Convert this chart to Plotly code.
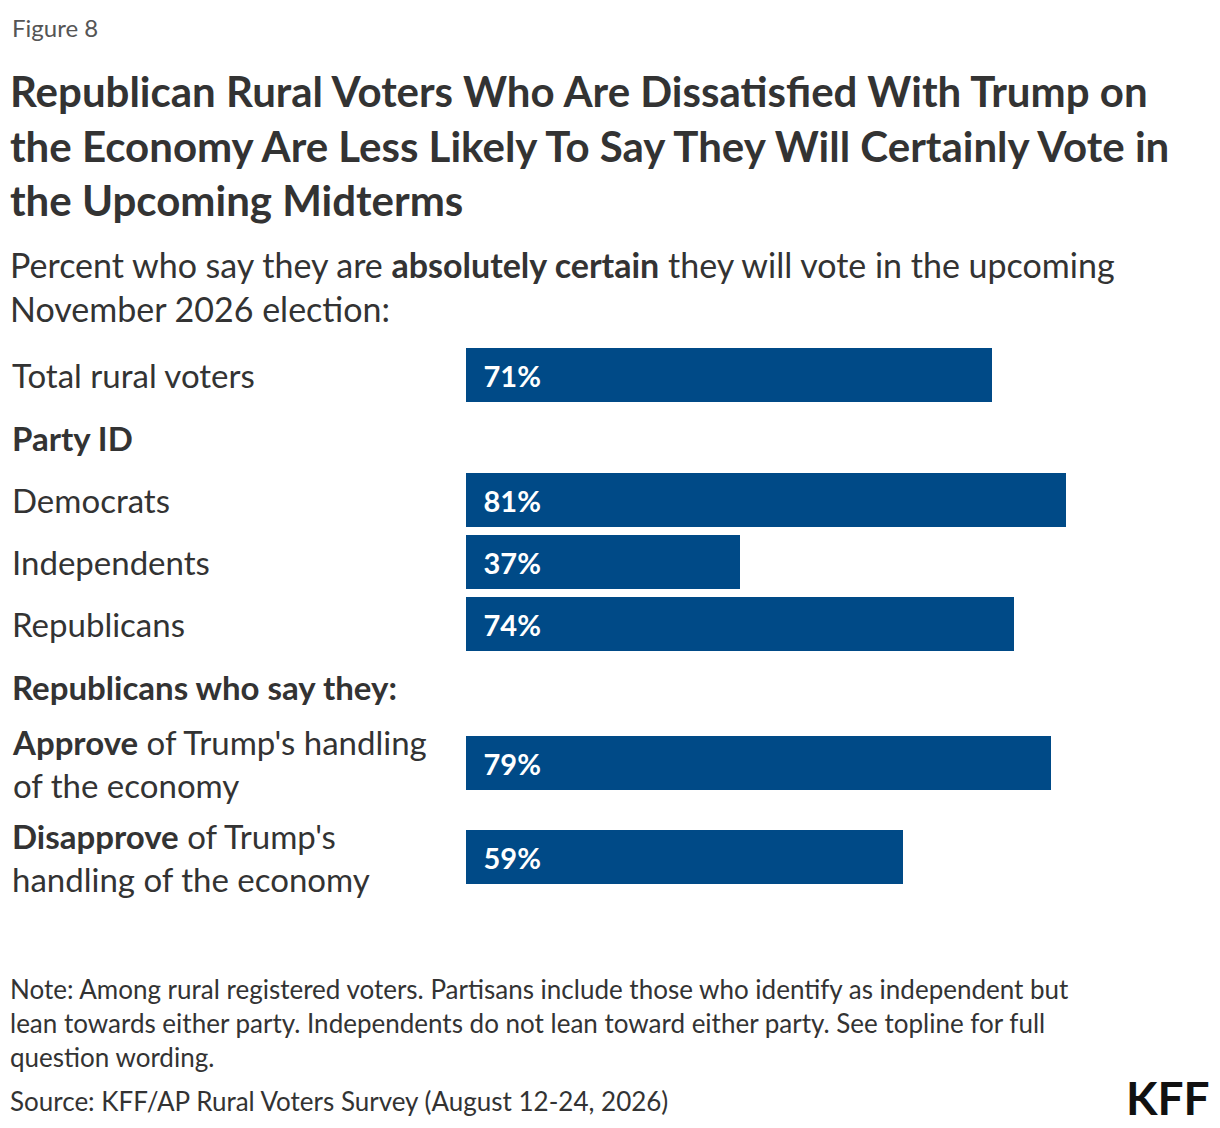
import plotly.graph_objects as go

categories = ["Total rural voters", "Democrats", "Independents", "Republicans",
              "<b>Approve</b> of Trump's handling<br>of the economy",
              "<b>Disapprove</b> of Trump's<br>handling of the economy"]
values = [71, 81, 37, 74, 79, 59]
headers = ["Party ID", "Republicans who say they:"]

# layout rows in page pixels (y axis is mapped 1:1 onto the page)
row_pos = [375, 500, 562, 624, 763, 857]
header_pos = [438, 687]

W, H = 1220, 1128
OFF = 8  # page body margin
FONT = "Lato, sans-serif"
DARK = "#333333"
BLUE = "#004A87"

fig = go.Figure(go.Bar(
    x=values, y=row_pos, orientation="h", width=54,
    marker=dict(color=BLUE, line=dict(width=0)),
    text=[f"\u2002<b>{v}%</b>" for v in values], textposition="inside",
    insidetextanchor="start", textfont=dict(color="white", size=29, family=FONT),
    hoverinfo="skip", cliponaxis=False,
))

ann = []
def txt(x, y, s, size, color=DARK, xanchor="left", yanchor="middle"):
    ann.append(dict(x=(x - OFF) / W, y=y, xref="paper", yref="y", text=s, showarrow=False,
                    xanchor=xanchor, yanchor=yanchor, align="left",
                    font=dict(family=FONT, size=size, color=color)))

txt(10, 27, "Figure 8", 24, "#555555")
txt(8, 145, "<b>Republican Rural Voters Who Are Dissatisfied With Trump on<br>"
    "the Economy Are Less Likely To Say They Will Certainly Vote in<br>"
    "the Upcoming Midterms</b>", 42)
txt(8, 286, "Percent who say they are <b>absolutely certain</b> they will vote in the upcoming<br>"
    "November 2026 election:", 34)
for c, y in zip(categories, row_pos):
    txt(10, y, c, 33)
for h, y in zip(headers, header_pos):
    txt(10, y, f"<b>{h}</b>", 33)
txt(8, 1023, "Note: Among rural registered voters. Partisans include those who identify as independent but<br>"
    "lean towards either party. Independents do not lean toward either party. See topline for full<br>"
    "question wording.", 26)
txt(8, 1101, "Source: KFF/AP Rural Voters Survey (August 12-24, 2026)", 26)
txt(1212, 1097, "<b>KFF</b>", 46, "#111111", xanchor="right")

fig.update_layout(
    width=W, height=H, margin=dict(l=0, r=0, t=0, b=0),
    plot_bgcolor="white", paper_bgcolor="white", showlegend=False,
    xaxis=dict(range=[0, 100], domain=[(466 - OFF) / W, (1207 - OFF) / W], visible=False, fixedrange=True),
    yaxis=dict(range=[H + OFF, OFF], domain=[0, 1], visible=False, fixedrange=True),
    annotations=ann, bargap=0,
)
fig.write_html("out.html")
